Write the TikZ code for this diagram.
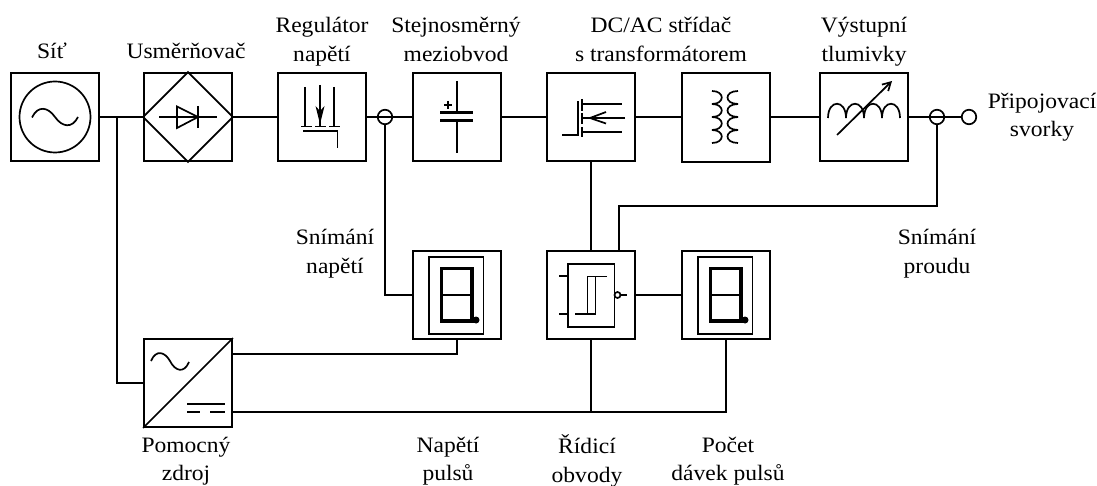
\documentclass[tikz,border=0pt]{standalone}
\usepackage{fontspec}
\setmainfont{Liberation Serif}[FakeStretch=1.07]
\usetikzlibrary{arrows.meta}

\begin{document}
\begin{tikzpicture}[x=1pt,y=-1pt]
        \tikzstyle{every node}+=[inner sep=0pt]
        \tikzstyle{every path}+=[line width=1.7pt]
        \tikzstyle{blok}=[draw=black,line width=1.8pt,minimum size=88pt]
        \tikzstyle{kolo}=[draw=black,circle,minimum size=14.5pt]
        \tikzstyle{popis}=[align=center,font=\fontsize{22}{28.5}\selectfont,execute at begin node={\strut},execute at end node={\strut}]
        \useasboundingbox (0,0) rectangle (1097,486);
        % bloky
        \node [blok] (sit) at (55,117) {};
        \node [blok] (usm) at (188,117) {};
        \node [blok] (reg) at (322,117) {};
        \node [blok] (mezi) at (457,117) {};
        \node [blok] (stri) at (591,117) {};
        \node [blok,minimum height=89pt] (traf) at (726,117.5) {};
        \node [blok] (tlum) at (864,117) {};
        \node [blok] (disa) at (457,295) {};
        \node [blok] (rid) at (591,295) {};
        \node [blok] (disb) at (726,295) {};
        \node [blok] (pom) at (188,383) {};
        \node [kolo] (snu) at (385,117) {};
        \node [kolo] (sni) at (937,117) {};
        \node [kolo] (svo) at (969,117) {};
        \coordinate (odb) at (117,117);
        \coordinate (poma) at (232,354);
        \coordinate (pomb) at (232,412);
        \coordinate (ridb) at (619,251);
        \coordinate (smer) at (937,206);
        % popisy
        \node [popis] (tsit) at (52,53) {Síť};
        \node [popis] (tusm) at (186,53) {Usměrňovač};
        \node [popis] (treg) at (322,43.5) {Regulátor\\napětí};
        \node [popis] (tmezi) at (456,43.5) {Stejnosměrný\\meziobvod};
        \node [popis] (tstri) at (661,43.5) {DC/AC střídač\\s transformátorem};
        \node [popis] (ttlum) at (864,43.5) {Výstupní\\tlumivky};
        \node [popis] (tsvo) at (1042,119) {Připojovací\\svorky};
        \node [popis] (tsnu) at (335,255.5) {Snímání\\napětí};
        \node [popis] (tsni) at (937,255.5) {Snímání\\proudu};
        \node [popis] (tpom) at (186,463) {Pomocný\\zdroj};
        \node [popis] (tnap) at (448,463) {Napětí\\pulsů};
        \node [popis] (trid) at (587,463) {Řídicí\\obvody};
        \node [popis] (tpoc) at (728,463) {Počet\\dávek pulsů};
        % spoje
        \draw [black] (sit) -- (usm);
        \draw [black] (usm) -- (reg);
        \draw [black] (reg) -- (mezi);
        \draw [black] (mezi) -- (stri);
        \draw [black] (stri.east) -- (traf.west |- stri.east);
        \draw [black] (traf.east |- tlum.west) -- (tlum.west);
        \draw [black] (tlum) -- (svo);
        \draw [black] (odb) |- (pom);
        \draw [black] (snu) |- (disa);
        \draw [black] (stri) -- (rid);
        \draw [black] (rid) -- (disb);
        \draw [black] (ridb) |- (smer) -- (sni);
        \draw [black] (poma) -| (disa);
        \draw [black] (pomb) -| (disb);
        \draw [black] (rid) -- (rid |- pomb);
        % sit
        \draw [black] (55,117) circle (35.5);
        \draw [black] (32,117.5) .. controls (38,105) and (48,107) .. (55,117) .. controls (62,127) and (72,129) .. (78,117);
        % usmernovac
        \draw [black] (usm.north) -- (usm.east) -- (usm.south) -- (usm.west) -- cycle;
        \draw [black] (159,117) -- (217,117);
        \draw [black] (177,106.5) -- (177,128) -- (198,117) -- cycle;
        \draw [black] (198,106) -- (198,128);
        % regulator
        \draw [black] (305,87) -- (305,126);
        \draw [black] (320,85) -- (320,126);
        \draw [black] (334,87) -- (334,126);
        \draw [black] (301,126.5) -- (312,126.5);
        \draw [black] (315,126.5) -- (326,126.5);
        \draw [black] (329,126.5) -- (340,126.5);
        \fill [black] (320,124) -- (315.5,106) -- (320,111) -- (324.5,106) -- cycle;
        \draw [black] (303,131) -- (337.5,131) -- (337.5,148);
        % meziobvod
        \draw [black] (457,81) -- (457,113);
        \draw [black] (457,121) -- (457,153);
        \draw [black,line width=3pt] (440,113) -- (473,113);
        \draw [black,line width=3pt] (440,121) -- (473,121);
        \draw [black] (444,105) -- (452,105);
        \draw [black] (448,101) -- (448,109);
        % stridac
        \draw [black] (562,135) -- (578,135) -- (578,101);
        \draw [black] (582,99) -- (582,111);
        \draw [black] (582,113) -- (582,124);
        \draw [black] (582,127) -- (582,137);
        \draw [black] (582,104) -- (622,104);
        \draw [black] (625,118) -- (582,118);
        \draw [black] (582,132) -- (622,132);
        \draw [black] (606,112) -- (590,118) -- (606,123.5);
        % transformator
        \foreach \y in {91,104,117,130} {
            \draw [black] (712,\y) .. controls (725,\y) and (725,\y+13) .. (712,\y+13);
            \draw [black] (738,\y) .. controls (724,\y) and (724,\y+13) .. (738,\y+13);
        }
        % tlumivka
        \foreach \x in {828,846,864,882} {
            \draw [black] (\x,118) .. controls (\x,99) and (\x+18,99) .. (\x+18,118);
        }
        \draw [black,-{Straight Barb[length=8pt,width=9pt]}] (837,135) -- (892,81);
        % ridici obvody
        \draw [black,line width=1.2pt] (568,264) rectangle (614.5,327);
        \draw [black] (559,276) -- (568,276);
        \draw [black] (559,314) -- (568,314);
        \draw [black] (607,276.5) -- (587.5,276.5) -- (587.5,314);
        \draw [black] (575,314) -- (595.5,314) -- (595.5,276.5);
        \draw [black] (617.5,295) circle (3);
        \draw [black] (620.5,295) -- (627,295);
        % displeje
        \foreach \x in {0,269} {
            \draw [black,line width=1.2pt] (429+\x,257) rectangle (483.5+\x,334);
            \draw [black,line width=3.5pt] (441.5+\x,268.5) rectangle (472+\x,321);
            \draw [black,line width=2.5pt] (441.5+\x,295) -- (472+\x,295);
            \fill [black] (476+\x,320) circle (3.5);
        }
        % pomocny zdroj
        \draw [black] (pom.south west) -- (pom.north east);
        \draw [black] (151,361) .. controls (156,349) and (165,352) .. (170,361) .. controls (175,371) and (184,374) .. (189,362);
        \draw [black] (187,404) -- (225,404);
        \draw [black] (187,412) -- (200,412);
        \draw [black] (210,412) -- (225,412);
\end{tikzpicture}
\end{document}
